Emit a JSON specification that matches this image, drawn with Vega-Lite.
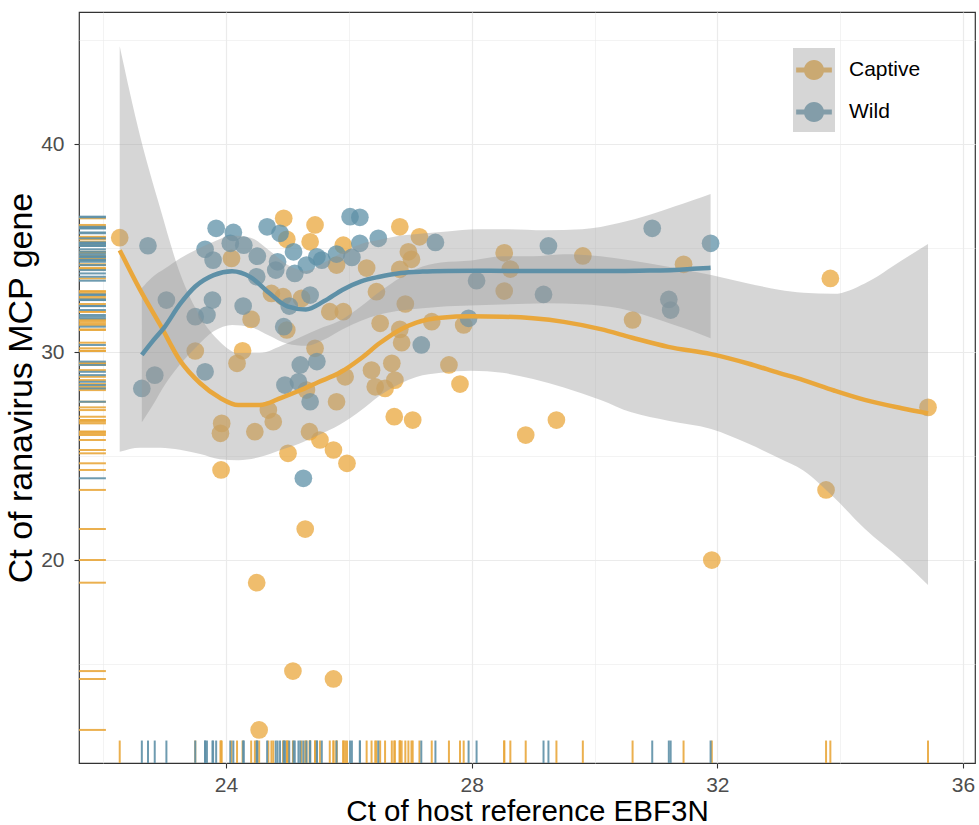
{
  "$schema": "https://vega.github.io/schema/vega-lite/v6.json",
  "width": 896,
  "height": 751,
  "autosize": {"type": "none"},
  "padding": {"left": 79, "top": 12, "right": 4, "bottom": 62},
  "background": "white",
  "config": {
    "font": "Liberation Sans",
    "view": {"stroke": "#333333", "strokeWidth": 1.2},
    "axis": {
      "domain": false,
      "gridColor": "#EBEBEB",
      "tickSize": 5,
      "tickWidth": 1.1,
      "labelColor": "#4D4D4D",
      "labelFlush": false,
      "labelOverlap": false,
      "titleFontWeight": "normal",
      "titleColor": "#000000"
    }
  },
  "datasets": {
    "pts": [
      {"g":"Captive","x":22.27,"y":35.5},{"g":"Captive","x":23.50,"y":30.05},{"g":"Captive","x":24.27,"y":30.06},{"g":"Captive","x":24.18,"y":29.46},
      {"g":"Captive","x":23.93,"y":26.57},{"g":"Captive","x":23.91,"y":26.09},{"g":"Captive","x":23.92,"y":24.33},{"g":"Captive","x":24.41,"y":31.57},
      {"g":"Captive","x":24.09,"y":34.50},{"g":"Captive","x":24.94,"y":36.43},{"g":"Captive","x":25.45,"y":36.11},{"g":"Captive","x":25.37,"y":35.30},
      {"g":"Captive","x":24.99,"y":35.42},{"g":"Captive","x":25.91,"y":35.14},{"g":"Captive","x":25.80,"y":34.18},{"g":"Captive","x":26.29,"y":34.04},
      {"g":"Captive","x":26.45,"y":32.90},{"g":"Captive","x":24.74,"y":32.82},{"g":"Captive","x":24.93,"y":32.66},{"g":"Captive","x":25.23,"y":32.58},
      {"g":"Captive","x":25.69,"y":31.94},{"g":"Captive","x":25.91,"y":31.94},{"g":"Captive","x":26.51,"y":31.38},{"g":"Captive","x":24.99,"y":31.06},
      {"g":"Captive","x":25.45,"y":30.18},{"g":"Captive","x":25.94,"y":28.81},{"g":"Captive","x":26.37,"y":29.13},{"g":"Captive","x":26.43,"y":28.33},
      {"g":"Captive","x":25.31,"y":28.17},{"g":"Captive","x":25.80,"y":27.61},{"g":"Captive","x":24.69,"y":27.21},{"g":"Captive","x":24.77,"y":26.65},
      {"g":"Captive","x":24.47,"y":26.17},{"g":"Captive","x":25.36,"y":26.17},{"g":"Captive","x":25.53,"y":25.77},{"g":"Captive","x":25.75,"y":25.29},
      {"g":"Captive","x":25.01,"y":25.13},{"g":"Captive","x":25.97,"y":24.65},{"g":"Captive","x":26.83,"y":36.02},{"g":"Captive","x":27.15,"y":35.54},
      {"g":"Captive","x":26.97,"y":34.82},{"g":"Captive","x":27.02,"y":34.46},{"g":"Captive","x":26.83,"y":33.98},{"g":"Captive","x":26.92,"y":32.31},
      {"g":"Captive","x":26.83,"y":31.09},{"g":"Captive","x":26.86,"y":30.45},{"g":"Captive","x":27.35,"y":31.46},{"g":"Captive","x":27.87,"y":31.30},
      {"g":"Captive","x":27.63,"y":29.38},{"g":"Captive","x":27.81,"y":28.46},{"g":"Captive","x":26.70,"y":29.46},{"g":"Captive","x":26.59,"y":28.25},
      {"g":"Captive","x":26.75,"y":28.65},{"g":"Captive","x":26.74,"y":26.89},{"g":"Captive","x":27.04,"y":26.73},{"g":"Captive","x":28.53,"y":34.77},
      {"g":"Captive","x":28.63,"y":33.99},{"g":"Captive","x":29.81,"y":34.62},{"g":"Captive","x":31.45,"y":34.22},{"g":"Captive","x":28.53,"y":32.93},
      {"g":"Captive","x":30.62,"y":31.54},{"g":"Captive","x":29.38,"y":26.73},{"g":"Captive","x":28.88,"y":26.01},{"g":"Captive","x":33.84,"y":33.54},
      {"g":"Captive","x":35.43,"y":27.34},{"g":"Captive","x":33.77,"y":23.37},{"g":"Captive","x":31.91,"y":20.0},{"g":"Captive","x":25.29,"y":21.49},
      {"g":"Captive","x":24.50,"y":18.91},{"g":"Captive","x":25.09,"y":14.66},{"g":"Captive","x":25.75,"y":14.28},{"g":"Captive","x":24.54,"y":11.83},
      {"g":"Wild","x":22.73,"y":35.11},{"g":"Wild","x":23.84,"y":35.95},{"g":"Wild","x":24.12,"y":35.75},{"g":"Wild","x":23.66,"y":34.94},
      {"g":"Wild","x":23.79,"y":34.42},{"g":"Wild","x":24.07,"y":35.23},{"g":"Wild","x":24.29,"y":35.14},{"g":"Wild","x":24.51,"y":34.61},
      {"g":"Wild","x":24.50,"y":33.62},{"g":"Wild","x":24.67,"y":36.02},{"g":"Wild","x":24.88,"y":35.71},{"g":"Wild","x":25.10,"y":34.82},
      {"g":"Wild","x":24.84,"y":34.34},{"g":"Wild","x":24.81,"y":33.94},{"g":"Wild","x":25.12,"y":33.78},{"g":"Wild","x":25.31,"y":34.18},
      {"g":"Wild","x":25.48,"y":34.58},{"g":"Wild","x":25.56,"y":34.42},{"g":"Wild","x":25.80,"y":34.71},{"g":"Wild","x":26.05,"y":34.55},
      {"g":"Wild","x":26.18,"y":35.23},{"g":"Wild","x":26.02,"y":36.51},{"g":"Wild","x":26.18,"y":36.48},{"g":"Wild","x":26.48,"y":35.47},
      {"g":"Wild","x":23.03,"y":32.50},{"g":"Wild","x":23.50,"y":31.70},{"g":"Wild","x":23.69,"y":31.78},{"g":"Wild","x":23.78,"y":32.50},
      {"g":"Wild","x":24.28,"y":32.21},{"g":"Wild","x":25.03,"y":32.21},{"g":"Wild","x":25.37,"y":32.74},{"g":"Wild","x":24.94,"y":31.22},
      {"g":"Wild","x":22.63,"y":28.25},{"g":"Wild","x":22.84,"y":28.89},{"g":"Wild","x":23.66,"y":29.05},{"g":"Wild","x":25.21,"y":29.38},
      {"g":"Wild","x":25.48,"y":29.54},{"g":"Wild","x":24.96,"y":28.41},{"g":"Wild","x":25.18,"y":28.57},{"g":"Wild","x":25.37,"y":27.61},
      {"g":"Wild","x":25.26,"y":23.93},{"g":"Wild","x":27.41,"y":35.27},{"g":"Wild","x":28.08,"y":33.43},{"g":"Wild","x":27.95,"y":31.62},
      {"g":"Wild","x":27.18,"y":30.34},{"g":"Wild","x":29.25,"y":35.10},{"g":"Wild","x":30.94,"y":35.95},{"g":"Wild","x":31.89,"y":35.23},
      {"g":"Wild","x":29.17,"y":32.77},{"g":"Wild","x":31.21,"y":32.53},{"g":"Wild","x":31.24,"y":32.02}
    ],
    "sm": [
      {"g":"Captive","x":22.27,"fit":34.9,"lo":25.2,"hi":44.7},
      {"g":"Captive","x":22.6,"fit":33.0,"lo":25.4,"hi":40.4},
      {"g":"Captive","x":22.93,"fit":31.3,"lo":25.4,"hi":36.9},
      {"g":"Captive","x":23.25,"fit":29.6,"lo":25.3,"hi":33.8},
      {"g":"Captive","x":23.58,"fit":28.5,"lo":25.1,"hi":31.7},
      {"g":"Captive","x":23.9,"fit":27.8,"lo":24.85,"hi":30.5},
      {"g":"Captive","x":24.2,"fit":27.45,"lo":24.8,"hi":29.95},
      {"g":"Captive","x":24.55,"fit":27.45,"lo":24.95,"hi":29.95},
      {"g":"Captive","x":24.9,"fit":27.8,"lo":25.3,"hi":30.3},
      {"g":"Captive","x":25.2,"fit":28.15,"lo":25.6,"hi":30.7},
      {"g":"Captive","x":25.5,"fit":28.55,"lo":26.0,"hi":31.1},
      {"g":"Captive","x":25.85,"fit":29.0,"lo":26.5,"hi":31.5},
      {"g":"Captive","x":26.2,"fit":29.7,"lo":27.2,"hi":32.2},
      {"g":"Captive","x":26.5,"fit":30.42,"lo":27.9,"hi":32.9},
      {"g":"Captive","x":26.85,"fit":31.1,"lo":28.5,"hi":33.6},
      {"g":"Captive","x":27.1,"fit":31.42,"lo":28.8,"hi":34.0},
      {"g":"Captive","x":27.5,"fit":31.65,"lo":29.0,"hi":34.3},
      {"g":"Captive","x":28.0,"fit":31.72,"lo":29.1,"hi":34.4},
      {"g":"Captive","x":28.5,"fit":31.7,"lo":29.0,"hi":34.6},
      {"g":"Captive","x":29.0,"fit":31.62,"lo":28.7,"hi":34.6},
      {"g":"Captive","x":29.5,"fit":31.45,"lo":28.3,"hi":34.7},
      {"g":"Captive","x":30.1,"fit":31.1,"lo":27.7,"hi":34.6},
      {"g":"Captive","x":30.6,"fit":30.7,"lo":27.1,"hi":34.4},
      {"g":"Captive","x":31.2,"fit":30.25,"lo":26.7,"hi":34.1},
      {"g":"Captive","x":31.9,"fit":29.9,"lo":26.3,"hi":33.7},
      {"g":"Captive","x":32.5,"fit":29.45,"lo":25.6,"hi":33.3},
      {"g":"Captive","x":33.0,"fit":29.0,"lo":24.9,"hi":33.0},
      {"g":"Captive","x":33.4,"fit":28.65,"lo":24.3,"hi":32.85},
      {"g":"Captive","x":33.9,"fit":28.15,"lo":23.0,"hi":32.8},
      {"g":"Captive","x":34.4,"fit":27.7,"lo":21.5,"hi":33.3},
      {"g":"Captive","x":35.0,"fit":27.3,"lo":20.0,"hi":34.4},
      {"g":"Captive","x":35.43,"fit":27.05,"lo":18.8,"hi":35.2},
      {"g":"Wild","x":22.63,"fit":29.86,"lo":26.63,"hi":33.08},
      {"g":"Wild","x":22.8,"fit":30.5,"lo":27.4,"hi":33.6},
      {"g":"Wild","x":23.0,"fit":31.2,"lo":28.4,"hi":34.0},
      {"g":"Wild","x":23.25,"fit":32.3,"lo":29.4,"hi":34.5},
      {"g":"Wild","x":23.5,"fit":33.15,"lo":30.2,"hi":34.9},
      {"g":"Wild","x":23.8,"fit":33.7,"lo":31.0,"hi":35.3},
      {"g":"Wild","x":24.1,"fit":33.88,"lo":31.3,"hi":35.6},
      {"g":"Wild","x":24.4,"fit":33.6,"lo":31.2,"hi":35.5},
      {"g":"Wild","x":24.7,"fit":32.85,"lo":30.8,"hi":34.9},
      {"g":"Wild","x":25.0,"fit":32.2,"lo":30.4,"hi":34.2},
      {"g":"Wild","x":25.3,"fit":32.05,"lo":30.3,"hi":33.9},
      {"g":"Wild","x":25.6,"fit":32.45,"lo":30.6,"hi":34.3},
      {"g":"Wild","x":25.9,"fit":33.0,"lo":31.1,"hi":34.8},
      {"g":"Wild","x":26.2,"fit":33.4,"lo":31.5,"hi":35.2},
      {"g":"Wild","x":26.5,"fit":33.62,"lo":31.8,"hi":35.4},
      {"g":"Wild","x":26.85,"fit":33.8,"lo":32.0,"hi":35.6},
      {"g":"Wild","x":27.2,"fit":33.87,"lo":32.1,"hi":35.7},
      {"g":"Wild","x":27.6,"fit":33.9,"lo":32.2,"hi":35.8},
      {"g":"Wild","x":28.1,"fit":33.91,"lo":32.25,"hi":35.9},
      {"g":"Wild","x":28.6,"fit":33.9,"lo":32.3,"hi":35.9},
      {"g":"Wild","x":29.2,"fit":33.9,"lo":32.35,"hi":35.85},
      {"g":"Wild","x":29.8,"fit":33.9,"lo":32.3,"hi":35.9},
      {"g":"Wild","x":30.4,"fit":33.9,"lo":32.1,"hi":36.2},
      {"g":"Wild","x":30.9,"fit":33.92,"lo":31.7,"hi":36.6},
      {"g":"Wild","x":31.3,"fit":33.95,"lo":31.3,"hi":37.0},
      {"g":"Wild","x":31.6,"fit":34.0,"lo":31.0,"hi":37.3},
      {"g":"Wild","x":31.89,"fit":34.05,"lo":30.66,"hi":37.6}
    ]
  },
  "layer": [
    {
      "data": {"name": "pts"},
      "mark": {"type": "circle", "size": 314, "opacity": 0.75},
      "encoding": {
        "x": {"field": "x", "type": "quantitative", "scale": {"domain": [21.607, 36.195], "nice": false, "zero": false},
          "axis": {"title": "Ct of host reference EBF3N", "values": [22,24,26,28,30,32,34,36],
            "labelExpr": "datum.value % 4 === 0 ? format(datum.value, 'd') : ''",
            "labelFontSize": 21, "titleFontSize": 29.5, "labelPadding": 6,
            "tickColor": {"condition": {"test": "datum.value % 4 === 0", "value": "#333333"}, "value": "rgba(0,0,0,0)"},
            "gridWidth": {"condition": {"test": "datum.value % 4 === 0", "value": 1.2}, "value": 0.6},
            "titlePadding": 2}},
        "y": {"field": "y", "type": "quantitative", "scale": {"domain": [10.24, 46.35], "nice": false, "zero": false},
          "axis": {"title": "Ct of ranavirus MCP gene", "values": [15,20,25,30,35,40,45],
            "labelExpr": "datum.value % 10 === 0 ? format(datum.value, 'd') : ''",
            "labelFontSize": 21, "titleFontSize": 34, "labelPadding": 10,
            "tickColor": {"condition": {"test": "datum.value % 10 === 0", "value": "#333333"}, "value": "rgba(0,0,0,0)"},
            "gridWidth": {"condition": {"test": "datum.value % 10 === 0", "value": 1.2}, "value": 0.6},
            "titlePadding": 2}},
        "color": {"field": "g", "type": "nominal", "scale": {"domain": ["Captive", "Wild"], "range": ["#E9A73C", "#5E90A7"]},
          "legend": {"title": null, "orient": "none", "legendX": 714, "legendY": 37,
            "symbolType": "M-0.48,0A0.48,0.48 0 1,1 0.48,0A0.48,0.48 0 1,1 -0.48,0Z M-0.85,-0.12H0.85V0.12H-0.85Z",
            "symbolSize": 1764, "symbolOpacity": 0.85, "symbolStrokeWidth": 0,
            "labelFontSize": 21, "labelColor": "#000000", "labelOffset": 14, "rowPadding": 10}}
      }
    },
    {
      "data": {"name": "pts"},
      "mark": {"type": "rule", "strokeWidth": 2, "opacity": 0.9},
      "encoding": {
        "y": {"field": "y", "type": "quantitative"},
        "x": {"datum": 21.607, "type": "quantitative"},
        "x2": {"datum": 22.045},
        "color": {"field": "g", "type": "nominal", "legend": null}
      }
    },
    {
      "data": {"name": "pts"},
      "mark": {"type": "rule", "strokeWidth": 2, "opacity": 0.9},
      "encoding": {
        "x": {"field": "x", "type": "quantitative"},
        "y": {"datum": 10.24, "type": "quantitative"},
        "y2": {"datum": 11.32},
        "color": {"field": "g", "type": "nominal", "legend": null}
      }
    },
    {
      "data": {"name": "sm"},
      "mark": {"type": "area", "fillOpacity": 0.4, "interpolate": "monotone"},
      "encoding": {
        "x": {"field": "x", "type": "quantitative"},
        "y": {"field": "lo", "type": "quantitative"},
        "y2": {"field": "hi"},
        "fill": {"field": "g", "type": "nominal", "scale": {"range": ["#999999", "#999999"]},
          "legend": {"title": null, "orient": "none", "legendX": 714, "legendY": 36,
            "symbolType": "square", "symbolSize": 1764, "symbolOpacity": 0.4, "symbolStrokeWidth": 0,
            "labelFontSize": 21, "labelExpr": "''", "labelOffset": 14, "rowPadding": 0}}
      }
    },
    {
      "data": {"name": "sm"},
      "mark": {"type": "line", "strokeWidth": 4.5, "interpolate": "monotone"},
      "encoding": {
        "x": {"field": "x", "type": "quantitative"},
        "y": {"field": "fit", "type": "quantitative"},
        "color": {"field": "g", "type": "nominal", "legend": null}
      }
    }
  ]
}
